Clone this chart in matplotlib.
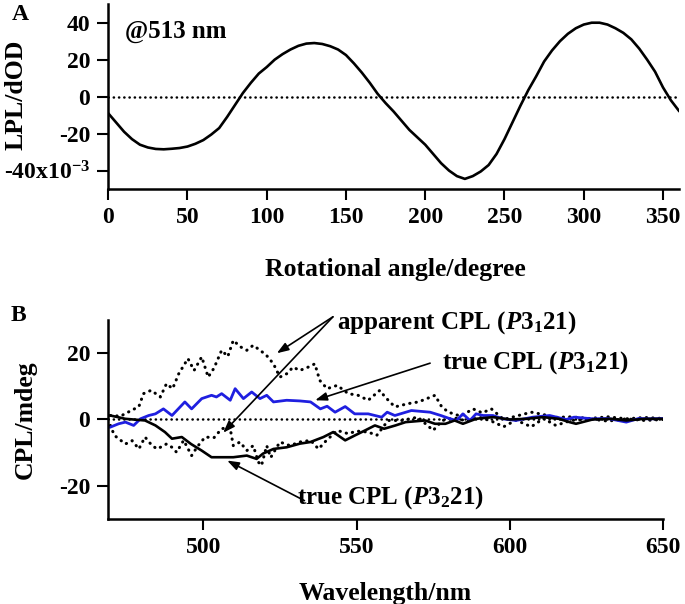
import matplotlib
matplotlib.use("Agg")
import matplotlib.pyplot as plt

plt.rcParams['font.family'] = ['Liberation Serif', 'DejaVu Serif']
plt.rcParams['font.weight'] = 'bold'
plt.rcParams['axes.unicode_minus'] = False
plt.rcParams['mathtext.fontset'] = 'custom'
plt.rcParams['mathtext.rm'] = 'Liberation Serif:bold'
plt.rcParams['mathtext.it'] = 'Liberation Serif:italic:bold'
plt.rcParams['mathtext.bf'] = 'Liberation Serif:bold'

# panel A: LPL vs rotational angle (units of 1e-3)
angle = [0, 5, 10, 15, 20, 25, 30, 35, 40, 45, 50, 55, 60, 65, 70, 75, 80, 85, 90, 95,
         100, 105, 110, 115, 120, 125, 130, 135, 140, 145, 150, 155, 160, 165, 170, 175,
         180, 185, 190, 195, 200, 205, 210, 215, 220, 225, 230, 235, 240, 245, 250, 255,
         260, 265, 270, 275, 280, 285, 290, 295, 300, 305, 310, 315, 320, 325, 330, 335,
         340, 345, 350, 355, 360]
lpl = [-9, -14, -19, -23, -26, -27.5, -28.3, -28.5, -28.2, -27.8, -27, -25.5, -23.5, -20.5,
       -17, -11, -4.5, 2, 7.5, 12.5, 16, 20, 23, 25.5, 27.5, 28.7, 29, 28.5, 27.3, 25.5,
       22.5, 18, 13, 7.5, 1.5, -3.5, -8, -13, -18, -22, -26, -31, -36, -40, -43, -44.5,
       -43, -40.5, -37, -31, -23, -14, -5, 3.5, 11, 19, 25, 30, 34, 37, 39, 40, 40, 39,
       37, 34.5, 31, 26, 20, 13.5, 5, -2, -7.6]
a_yticks = [-40, -20, 0, 20, 40]
a_yticklabels = ['-40x10$^{-3}$', '-20', '0', '20', '40']
a_xticks = [0, 50, 100, 150, 200, 250, 300, 350]

# panel B: CPL spectra (mdeg)
true31_nm = [469.7, 472.4, 474.6, 477.3, 479.5, 482.2, 484.4, 487, 489.8, 494, 496.2, 499.5,
             502.7, 504.3, 506, 508.8, 510.4, 513.1, 515.8, 518.5, 520.7, 522.9, 527.2,
             531.5, 535, 538.2, 540.4, 543, 546.3, 549.4, 553.8, 558.2, 560, 562.5, 567.9,
             574, 577.5, 580.6, 582.6, 584.7, 587, 589, 591.3, 594.5, 597.8, 602, 607.5,
             613, 618.4, 621, 627, 632, 638, 642, 646, 650]
true31 = [-2.3, -1.3, -0.8, -1.8, 0.2, 1.2, 1.7, 3.2, 1.2, 5.3, 3.2, 6.3, 7.3, 6.8, 7.8,
          5.8, 9.3, 6.3, 8.3, 6.3, 7.3, 5.3, 5.8, 5.6, 5.3, 3.2, 4.0, 2.2, 3.9, 1.7, 1.7,
          0.7, 2.2, 1.2, 2.7, 2.2, 1.2, 0.2, -0.3, 1.7, -0.3, 1.7, 1.2, 1.2, 0.2, -0.3,
          0.7, 1.2, 0.0, 0.7, 0.2, 0.3, -0.8, 0.3, 0.2, 0.3]

true32_nm = [469.7, 474.6, 481, 484.4, 487.5, 489.8, 493, 496, 499.5, 502.7, 507, 509.8,
             514.2, 517.4, 519.5, 522.9, 527.2, 531.5, 535, 539.2, 542.4, 546.3, 549.5,
             552.8, 556, 559, 562.7, 566, 572.4, 575.6, 579, 582, 584.7, 589, 594.5, 600,
             605.4, 610.8, 616, 619.5, 621.6, 627, 633, 638, 644, 650]
true32 = [1.2, 0.2, -0.3, -1.8, -3.8, -5.8, -5.3, -7.4, -9.4, -11.4, -11.4, -11.4, -10.9,
          -11.9, -10.3, -8.9, -8.4, -7.3, -6.8, -5.3, -3.8, -6.3, -4.8, -3.3, -1.8, -2.8,
          -1.8, -0.8, -0.3, -1.3, -1.3, -0.3, -1.3, 0.2, 0.7, 0.0, 0.2, 0.7, 0.2, -0.8,
          -1.3, 0.0, 0.2, -0.3, 0.2, 0.2]

app_hi_nm = [469.7, 473, 476.5, 479, 480.5, 483, 486, 488, 490, 492, 495, 497, 499.5, 501.6,
             503.5, 506, 508, 509.8, 512, 514.2, 516.3, 518.5, 520.5, 522.9, 525, 527.2,
             529.3, 531.5, 534.2, 536.4, 538, 540.4, 543.7, 547.3, 550.5, 553.8, 557.6,
             559.3, 562.5, 566.9, 570.2, 574, 575.6, 577.8, 580, 584, 588, 591, 594, 598,
             602, 607, 611, 614, 620, 626, 632, 638, 644, 650]
app_hi = [1.2, 1.0, 2.7, 3.9, 7.8, 8.8, 6.8, 10.8, 9.3, 13.8, 18.4, 14.8, 18.9, 12.8, 15.5,
          20.9, 19, 23.9, 22, 20.9, 22.4, 20.9, 19.5, 16.8, 12.8, 13.8, 15.8, 14.8, 15.8,
          16.8, 11.8, 9.3, 10.3, 7.8, 7.3, 5.8, 8.8, 6.8, 3.8, 4.8, 5.3, 6.7, 7.3, 3.8, 2.2,
          1.0, 3.2, 2.0, 3.2, 0.0, 1.0, 2.2, 1.5, 0.6, 0.8, 0.3, 0.8, 0.2, 0.6, 0.3]

app_lo_nm = [469.7, 471, 474.6, 476.8, 479, 481, 483.3, 485, 488, 489.8, 491.3, 493.6, 496.2,
             498, 500.6, 503.5, 506, 508.7, 509.8, 512, 514.2, 516.3, 518, 519, 520.7, 522,
             525, 528.3, 531.5, 535, 537.6, 540, 543.7, 547.3, 550, 553.8, 556.6, 560.3,
             564.7, 570, 575, 578, 582, 586, 590, 594, 598, 602, 607, 611, 615, 620, 626,
             632, 638, 644, 650]
app_lo = [-1.8, -4.8, -7.4, -6.4, -8.9, -5.3, -7.9, -8.9, -7.4, -8.4, -9.9, -6.3, -10.9,
          -8.3, -5.3, -5.5, -2.8, -2.3, -7.9, -6.8, -9.4, -7.9, -12.9, -13.9, -7.9, -11.5,
          -6.8, -7.9, -6.8, -6.3, -8.9, -6.5, -3.3, -4.3, -3.5, -3.8, -4.8, -0.3, -0.3, 0.7,
          -3.3, -0.3, 0.5, -0.5, 0.7, -0.5, -2.2, -0.2, -2.2, 0.3, -1.8, -0.3, 0.2, -0.5,
          0.2, -0.3, 0.0]
b_yticks = [-20, 0, 20]
b_xticks = [500, 550, 600, 650]

dots = (0, (0.1, 2.0))

fig = plt.figure(figsize=(6.85, 6.04), dpi=100)


def style(ax):
    for s in ['top', 'right']:
        ax.spines[s].set_visible(False)
    for s in ['left', 'bottom']:
        ax.spines[s].set_linewidth(1.8)
    ax.tick_params(direction='out', length=8, width=1.5, labelsize=17, pad=5)


# ---- A ----
axA = fig.add_axes([0.158, 0.687, 0.833, 0.306])
axA.plot(angle, lpl, color='black', lw=1.9)
axA.axhline(0, color='black', lw=1.8, linestyle=dots, dash_capstyle='round')
axA.set_xlim(0, 360)
axA.set_ylim(-50, 50)
axA.set_xticks(a_xticks)
axA.set_yticks(a_yticks)
axA.set_yticklabels(a_yticklabels)
style(axA)
axA.set_xlabel('Rotational angle/degree', fontsize=18.5, fontweight='bold')
axA.set_ylabel('LPL/dOD', fontsize=18.5, fontweight='bold')
axA.xaxis.set_label_coords(0.503, -0.373)
axA.yaxis.set_label_coords(-0.142, 0.508)
axA.text(0.03, 0.85, '@513 nm', transform=axA.transAxes, fontsize=18,
         fontweight='bold', ha='left', va='center')

# ---- B ----
axB = fig.add_axes([0.158, 0.141, 0.810, 0.329])
axB.axhline(0, color='black', lw=1.8, linestyle=dots, dash_capstyle='round')
axB.plot(app_hi_nm, app_hi, color='black', lw=2.2, linestyle=dots, dash_capstyle='round')
axB.plot(app_lo_nm, app_lo, color='black', lw=2.2, linestyle=dots, dash_capstyle='round')
axB.plot(true31_nm, true31, color='#1f1fe0', lw=2.0)
axB.plot(true32_nm, true32, color='black', lw=1.9)
axB.set_xlim(469, 650)
axB.set_ylim(-30, 30)
axB.set_xticks(b_xticks)
axB.set_yticks(b_yticks)
style(axB)
axB.set_xlabel('Wavelength/nm', fontsize=18.5, fontweight='bold')
axB.set_ylabel('CPL/mdeg', fontsize=18.5, fontweight='bold')
axB.xaxis.set_label_coords(0.5, -0.32)
axB.yaxis.set_label_coords(-0.128, 0.5)

arrow = dict(arrowstyle='-|>,head_length=0.7,head_width=0.25', color='black', lw=1.2,
             shrinkA=0, shrinkB=0)
axB.text(543.6, 29.4, 'apparent CPL ($P$3$_1$21)', fontsize=18, fontweight='bold',
         ha='left', va='center', clip_on=False)
axB.annotate('', xy=(524, 20), xytext=(542.3, 31.0), arrowprops=arrow, annotation_clip=False)
axB.annotate('', xy=(506.5, -4), xytext=(542.3, 31.0), arrowprops=arrow, annotation_clip=False)
axB.text(577.8, 17.3, 'true CPL ($P$3$_1$21)', fontsize=18, fontweight='bold',
         ha='left', va='center')
axB.annotate('', xy=(536.5, 5.8), xytext=(574, 17), arrowprops=arrow)
axB.text(530.6, -23.6, 'true CPL ($P$3$_2$21)', fontsize=18, fontweight='bold',
         ha='left', va='center')
axB.annotate('', xy=(507.8, -12.4), xytext=(533, -24.5), arrowprops=arrow)

fig.text(20 / 685, 1 - 15 / 604, 'A', fontsize=17, fontweight='bold', ha='center', va='center')
fig.text(18 / 685, 1 - 315 / 604, 'B', fontsize=17, fontweight='bold', ha='center', va='center')

fig.savefig('out.png', dpi=100)
